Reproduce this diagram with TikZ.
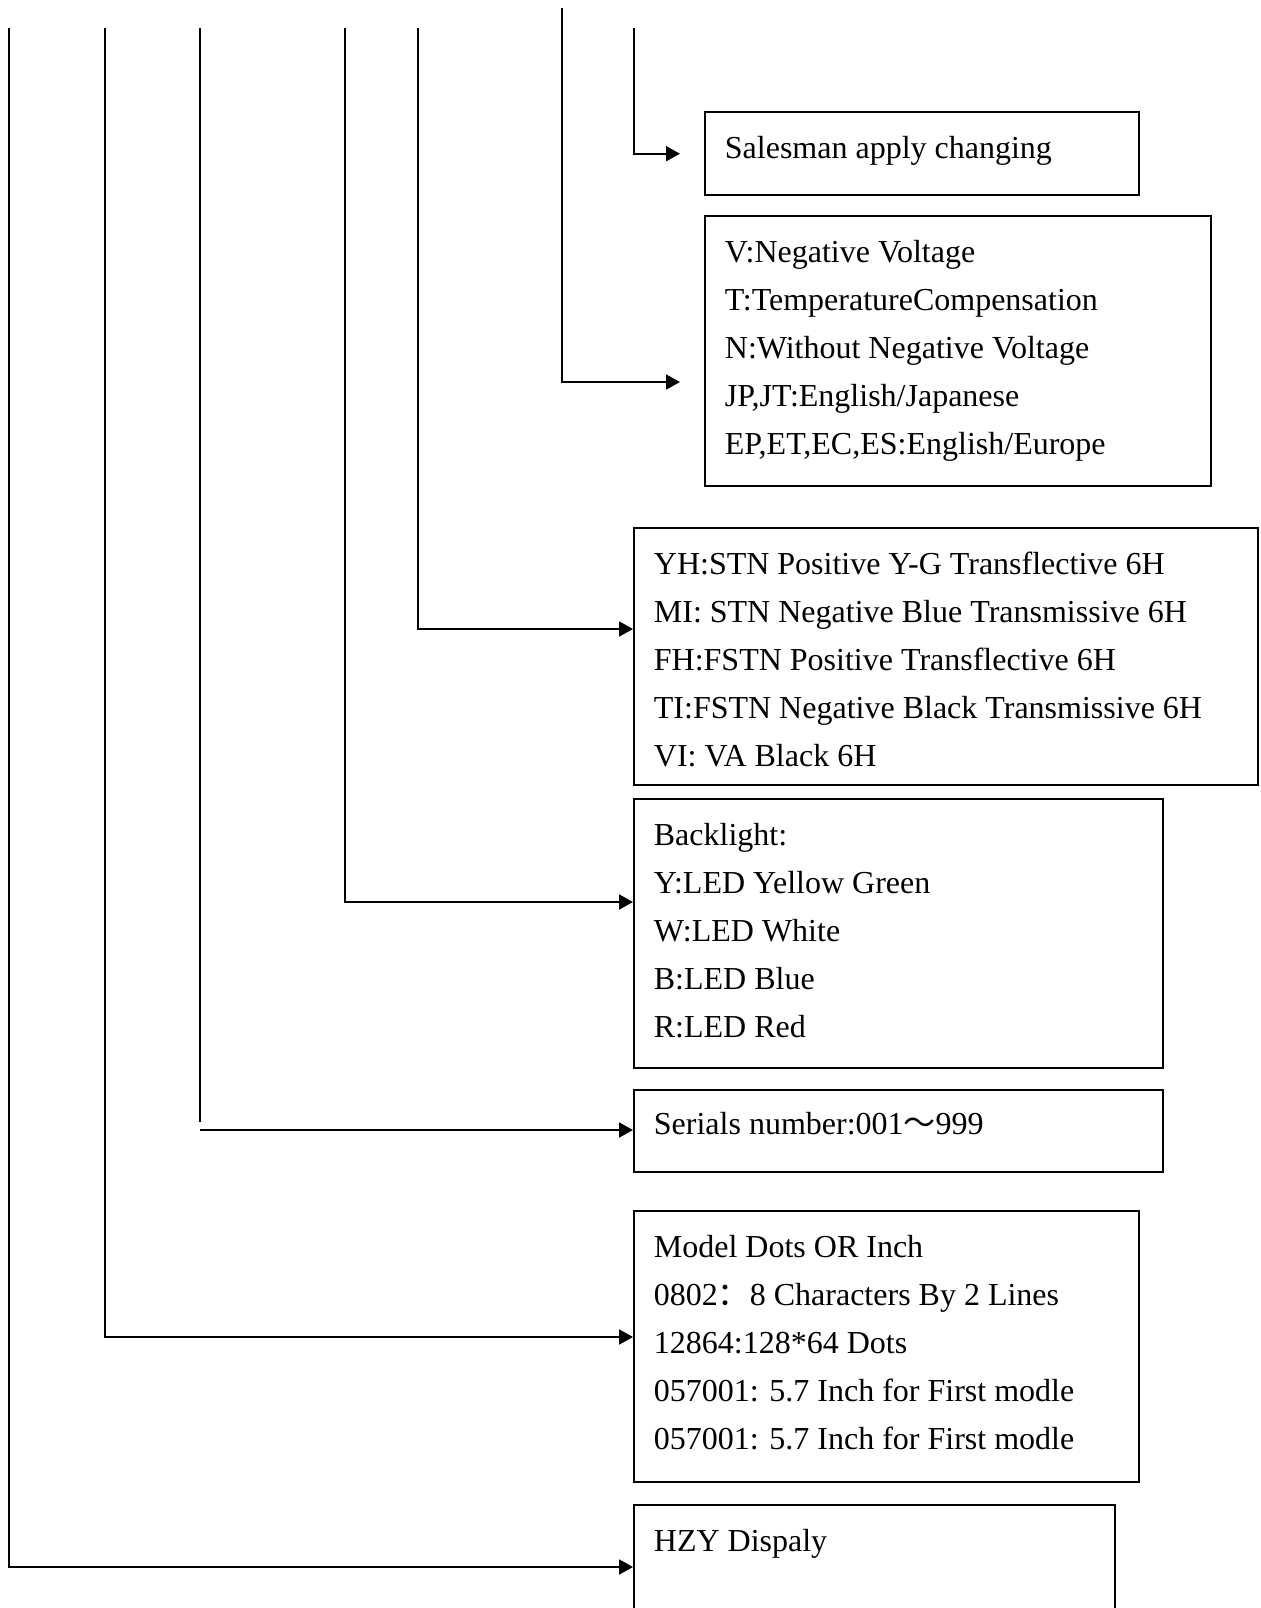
\documentclass[tikz,border=0pt]{standalone}
\usepackage{fontspec}
\setmainfont{Liberation Serif}
\newfontfamily\cjk{Noto Sans CJK SC}
\usetikzlibrary{arrows.meta}
\tikzstyle{frame} = [rectangle,
                    draw=black,
                    line width=1.2pt,
                    anchor=north west,
                    inner sep=0pt]
\tikzstyle{entry} = [anchor=base west,
                    inner sep=0pt,
                    font=\fontsize{16}{24}\selectfont]
\tikzstyle{lead} = [line width=0.9pt]
\tikzstyle{feed} = [line width=0.9pt,
                    -{Triangle[length=7pt,width=7.5pt]}]
\newcommand{\rows}[1]{\begin{tabular}[t]{@{}l@{}}#1\end{tabular}}

\begin{document}
\begin{tikzpicture}[x=0.5pt, y=-0.5pt]
\useasboundingbox (0,0) rectangle (1261,1608);
\clip (0,0) rectangle (1261,1608);
% frames
\node (sales) [frame, minimum width=217pt, minimum height=41.5pt] at (704,111) {};
\node (volt) [frame, minimum width=253pt, minimum height=135pt] at (704,215) {};
\node (lcd) [frame, minimum width=312pt, minimum height=128.5pt] at (633,527) {};
\node (back) [frame, minimum width=264.5pt, minimum height=134.5pt] at (633,798) {};
\node (serial) [frame, minimum width=264.5pt, minimum height=41pt] at (633,1089) {};
\node (model) [frame, minimum width=252.5pt, minimum height=135.5pt] at (633,1210) {};
\node (brand) [frame, minimum width=240.5pt, minimum height=70pt] at (633,1504) {};
% texts
\node (salesTxt) [entry] at ([xshift=10.25pt, yshift=-23.5pt]sales.north west) {\rows{Salesman apply changing}};
\node (voltTxt) [entry] at ([xshift=10.25pt, yshift=-23.5pt]volt.north west) {\rows{V:Negative Voltage\\ T:TemperatureCompensation\\ N:Without Negative Voltage\\ JP,JT:English/Japanese\\ EP,ET,EC,ES:English/Europe}};
\node (lcdTxt) [entry] at ([xshift=10.25pt, yshift=-23.5pt]lcd.north west) {\rows{YH:STN Positive Y-G Transflective 6H\\ MI: STN Negative Blue Transmissive 6H\\ FH:FSTN Positive Transflective 6H\\ TI:FSTN Negative Black Transmissive 6H\\ VI: VA Black 6H}};
\node (backTxt) [entry] at ([xshift=10.25pt, yshift=-23.5pt]back.north west) {\rows{Backlight:\\ Y:LED Yellow Green\\ W:LED White\\ B:LED Blue\\ R:LED Red}};
\node (serialTxt) [entry] at ([xshift=10.25pt, yshift=-22.5pt]serial.north west) {\rows{Serials number:001{\cjk ～}999}};
\node (modelTxt) [entry] at ([xshift=10.25pt, yshift=-23.5pt]model.north west) {\rows{Model Dots OR Inch\\ 0802{\cjk ：}8 Characters By 2 Lines\\ 12864:128*64 Dots\\ 057001: 5.7 Inch for First modle\\ 057001: 5.7 Inch for First modle}};
\node (brandTxt) [entry] at ([xshift=10.25pt, yshift=-23.5pt]brand.north west) {\rows{HZY Dispaly}};
% line tops
\coordinate (tBrand) at (9,28);
\coordinate (tModel) at (105,28);
\coordinate (tSerial) at (200,28);
\coordinate (tBack) at (345,28);
\coordinate (tLcd) at (418,28);
\coordinate (tVolt) at (562,8);
\coordinate (tSales) at (634,28);
\coordinate (sBend) at (200,1122);
\coordinate (sFoot) at (200,1130);
% connectors
\draw[feed, shorten >=12pt] (tSales) |- (sales.west);
\draw[feed, shorten >=12pt] (tVolt) |- ([yshift=-83.5pt]volt.north west);
\draw[feed] (tLcd) |- ([yshift=-51pt]lcd.north west);
\draw[feed] (tBack) |- ([yshift=-52pt]back.north west);
\draw[lead] (tSerial) -- (sBend);
\draw[feed] (sFoot) -- (sFoot -| serial.west);
\draw[feed] (tModel) |- ([yshift=-63.5pt]model.north west);
\draw[feed] (tBrand) |- ([yshift=-31.5pt]brand.north west);
\end{tikzpicture}
\end{document}
